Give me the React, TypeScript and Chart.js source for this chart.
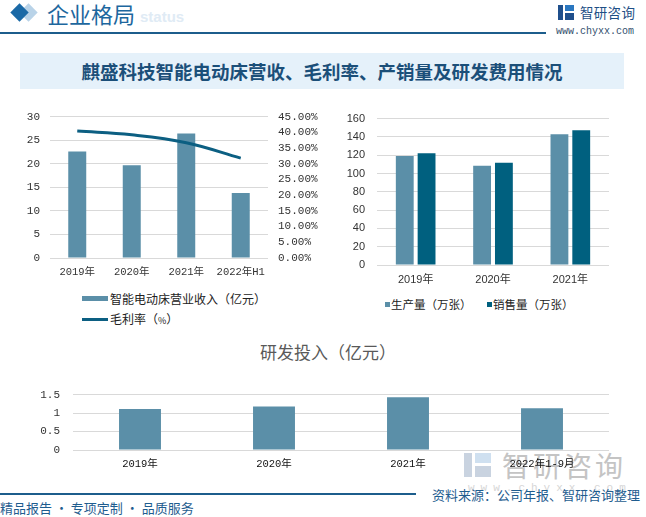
import React, { useEffect, useRef } from 'react';
import { Chart, registerables } from 'chart.js';
Chart.register(...registerables);

const revenueYears = ['2019年', '2020年', '2021年', '2022年H1'];
const revenue = [22.6, 19.7, 26.4, 13.8];
const grossMargin = [40.4, 39.2, 36.7, 31.8];

const volumeYears = ['2019年', '2020年', '2021年'];
const production = [119.2, 108.4, 143.0];
const sales = [122.2, 111.7, 147.4];

const rdYears = ['2019年', '2020年', '2021年', '2022年1-9月'];
const rdSpend = [1.11, 1.18, 1.43, 1.13];

const BAR = '#5b8fa8';
const DARK = '#00607f';
const LINE = '#0c5f82';
const GRID = '#d9d9d9';
const TICK = '#333333';
const MONO = "'Liberation Mono', 'Noto Sans CJK SC', monospace";
const SANS = "'Liberation Sans', 'Noto Sans CJK SC', sans-serif";
const CJK = "'Noto Sans CJK SC', sans-serif";

const fixW = (w: number) => (s: any) => { s.width = w; };
const fixH = (h: number) => (s: any) => { s.height = h; };

export default function App() {
  const r1 = useRef<HTMLCanvasElement>(null);
  const r2 = useRef<HTMLCanvasElement>(null);
  const r3 = useRef<HTMLCanvasElement>(null);

  useEffect(() => {
    const charts: Chart[] = [];
    const xTicks = (family: string, size: number, color = TICK) => ({ padding: 8, color, font: { family, size }, autoSkip: false, maxRotation: 0, minRotation: 0 });
    charts.push(new Chart(r1.current!, {
      type: 'bar',
      data: {
        labels: revenueYears,
        datasets: [
          { type: 'line', label: '毛利率（%）', data: grossMargin, yAxisID: 'y1', borderColor: LINE, backgroundColor: LINE, borderWidth: 3, pointRadius: 0, tension: 0.4, order: 0 } as any,
          { type: 'bar', label: '智能电动床营业收入（亿元）', data: revenue, yAxisID: 'y', backgroundColor: BAR, barPercentage: 0.33, categoryPercentage: 1, order: 1 },
        ],
      },
      options: {
        responsive: false, animation: false,
        layout: { padding: { top: 15, bottom: 0, left: 0, right: 0 } },
        plugins: { legend: { display: false }, tooltip: { enabled: false } },
        scales: {
          x: { grid: { display: false, drawTicks: false }, border: { display: false }, ticks: xTicks(MONO, 10.5), afterFit: fixH(22) },
          y: { position: 'left', min: 0, max: 30, ticks: { stepSize: 5, padding: 10, autoSkip: false, color: TICK, font: { family: MONO, size: 11 } }, grid: { color: GRID, drawTicks: false }, border: { display: false }, afterFit: fixW(40) },
          y1: { position: 'right', min: 0, max: 45, ticks: { stepSize: 5, padding: 10, autoSkip: false, color: TICK, font: { family: MONO, size: 11 }, callback: (v: any) => Number(v).toFixed(2) + '%' }, grid: { drawOnChartArea: false, drawTicks: false }, border: { display: false }, afterFit: fixW(57) },
        },
      } as any,
    }));

    charts.push(new Chart(r2.current!, {
      type: 'bar',
      data: {
        labels: volumeYears,
        datasets: [
          { label: '生产量（万张）', data: production, backgroundColor: BAR, barPercentage: 0.818, categoryPercentage: 0.564 },
          { label: '销售量（万张）', data: sales, backgroundColor: DARK, barPercentage: 0.818, categoryPercentage: 0.564 },
        ],
      },
      options: {
        responsive: false, animation: false,
        layout: { padding: { top: 17, bottom: 0, left: 0, right: 16 } },
        plugins: { legend: { display: false }, tooltip: { enabled: false } },
        scales: {
          x: { grid: { display: false, drawTicks: false }, border: { display: false }, ticks: xTicks(SANS, 11), afterFit: fixH(22) },
          y: { min: 0, max: 160, ticks: { stepSize: 20, padding: 12, autoSkip: false, color: TICK, font: { family: SANS, size: 11 } }, grid: { color: GRID, drawTicks: false }, border: { display: false }, afterFit: fixW(37) },
        },
      } as any,
    }));

    charts.push(new Chart(r3.current!, {
      type: 'bar',
      data: {
        labels: rdYears,
        datasets: [
          { label: '研发投入（亿元）', data: rdSpend, backgroundColor: BAR, barPercentage: 0.313, categoryPercentage: 1 },
        ],
      },
      options: {
        responsive: false, animation: false,
        layout: { padding: { top: 15, bottom: 0, left: 0, right: 21 } },
        plugins: { legend: { display: false }, tooltip: { enabled: false } },
        scales: {
          x: { grid: { display: false, drawTicks: false }, border: { display: false }, ticks: xTicks(MONO, 10.5, '#111'), afterFit: fixH(22) },
          y: { min: 0, max: 1.5, ticks: { stepSize: 0.5, padding: 13, autoSkip: false, color: TICK, font: { family: MONO, size: 11 }, callback: (v: any) => String(Number(v)) }, grid: { color: GRID, drawTicks: false }, border: { display: false }, afterFit: fixW(53) },
        },
      } as any,
    }));

    return () => charts.forEach(c => c.destroy());
  }, []);

  const abs = (s: React.CSSProperties): React.CSSProperties => ({ position: 'absolute', ...s });

  return (
    <div style={{ position: 'absolute', left: 0, top: 0, width: 646, height: 517, background: '#fff', overflow: 'hidden', fontFamily: CJK }}>
      {/* header */}
      <div style={abs({ left: 22, top: 6, width: 13, height: 13, background: '#b9d3e8', transform: 'rotate(45deg)' })} />
      <div style={abs({ left: 13, top: 6, width: 13, height: 13, background: '#1a69a6', transform: 'rotate(45deg)' })} />
      <div style={abs({ left: 140, top: 8, fontSize: 15, fontWeight: 700, color: '#e0ebf5', fontFamily: SANS, whiteSpace: 'nowrap' })}>status</div>
      <div style={abs({ left: 47, top: -2, fontSize: 22, color: '#1d679e', whiteSpace: 'nowrap', lineHeight: '30px' })}>企业格局</div>
      <div style={abs({ left: 0, top: 32, width: 546, height: 2, background: '#1c5d8c' })} />
      <div style={abs({ left: 558, top: 5, width: 5, height: 15, background: '#1f4f8c' })} />
      <div style={abs({ left: 565, top: 5, width: 9, height: 6, background: '#2a77c0' })} />
      <div style={abs({ left: 565, top: 13, width: 9, height: 7, background: '#1f4f8c' })} />
      <div style={abs({ left: 580, top: 2, fontSize: 13.5, color: '#1e4f86', whiteSpace: 'nowrap', lineHeight: '20px', letterSpacing: 0.3 })}>智研咨询</div>
      <div style={abs({ left: 556, top: 26, fontSize: 10, color: '#33506e', fontFamily: MONO, whiteSpace: 'nowrap', lineHeight: '12px' })}>www.chyxx.com</div>

      {/* title */}
      <div style={abs({ left: 20, top: 53, width: 604, height: 36, background: '#e5f1fa' })} />
      <div style={abs({ left: 20, top: 53, width: 604, height: 36, lineHeight: '36px', textAlign: 'center', fontSize: 18.5, fontWeight: 700, color: '#1b4f79', whiteSpace: 'nowrap' })}>麒盛科技智能电动床营收、毛利率、产销量及研发费用情况</div>

      {/* watermark logo */}
      <div style={abs({ left: 464, top: 453, width: 8, height: 24, background: '#c9d3e0' })} />
      <div style={abs({ left: 475, top: 453, width: 16, height: 10, background: '#cfe0f0' })} />
      <div style={abs({ left: 475, top: 466, width: 16, height: 11, background: '#c9d3e0' })} />
      <div style={abs({ left: 502, top: 446, fontSize: 28, color: '#c4c4c4', letterSpacing: 3, whiteSpace: 'nowrap', lineHeight: '38px' })}>智研咨询</div>
      <div style={abs({ left: 468, top: 482, fontSize: 11, color: '#d6d6d6', letterSpacing: 6, fontFamily: MONO, whiteSpace: 'nowrap', lineHeight: '12px' })}>www.chyxx.com</div>

      {/* charts */}
      <canvas ref={r1} width={315} height={180} style={abs({ left: 10, top: 100 })} />
      <canvas ref={r2} width={285} height={187} style={abs({ left: 340, top: 100 })} />
      <canvas ref={r3} width={610} height={97} style={abs({ left: 20, top: 375 })} />

      {/* left legend */}
      <div style={abs({ left: 82, top: 296, width: 26, height: 5, background: BAR })} />
      <div style={abs({ left: 110, top: 290, fontSize: 12, color: '#222', whiteSpace: 'nowrap', lineHeight: '18px' })}>智能电动床营业收入（亿元）</div>
      <div style={abs({ left: 82, top: 318, width: 26, height: 3, background: LINE })} />
      <div style={abs({ left: 110, top: 310, fontSize: 12, color: '#222', whiteSpace: 'nowrap', lineHeight: '18px' })}>毛利率（<span style={{ fontSize: 9 }}>%</span>）</div>

      {/* right legend */}
      <div style={abs({ left: 385, top: 302, width: 5, height: 5, background: BAR })} />
      <div style={abs({ left: 391, top: 295, fontSize: 11.5, color: '#222', whiteSpace: 'nowrap', lineHeight: '18px' })}>生产量（万张）</div>
      <div style={abs({ left: 487, top: 302, width: 5, height: 5, background: DARK })} />
      <div style={abs({ left: 493, top: 295, fontSize: 11.5, color: '#222', whiteSpace: 'nowrap', lineHeight: '18px' })}>销售量（万张）</div>

      {/* bottom chart title */}
      <div style={abs({ left: 0, top: 341, width: 656, textAlign: 'center', fontSize: 17, color: '#595959', whiteSpace: 'nowrap', lineHeight: '22px' })}>研发投入（亿元）</div>

      {/* footer */}
      <div style={abs({ left: 0, top: 493, width: 416, height: 2, background: '#1c5d8c' })} />
      <div style={abs({ left: 0, top: 499, fontSize: 13, color: '#1f5d8f', whiteSpace: 'nowrap', lineHeight: '18px' })}>精品报告 · 专项定制 · 品质服务</div>
      <div style={abs({ left: 432, top: 486, fontSize: 13, color: '#1f5d8f', whiteSpace: 'nowrap', lineHeight: '18px' })}>资料来源：公司年报、智研咨询整理</div>
    </div>
  );
}
